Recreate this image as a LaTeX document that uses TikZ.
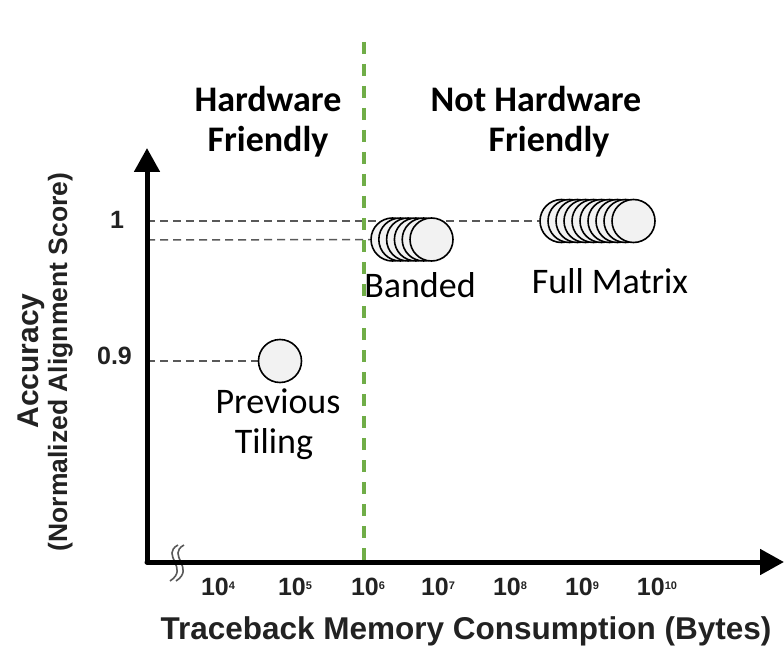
\documentclass[tikz,border=0pt]{standalone}
\usepackage{fontspec}
\setmainfont{Carlito}
\newfontfamily\arialfont{Liberation Sans}
\usetikzlibrary{arrows.meta}
\pgfdeclarelayer{paper}
\pgfdeclarelayer{guides}
\pgfsetlayers{paper,guides,main}
\definecolor{hwgreen}{HTML}{70AD47}
\definecolor{dgray}{HTML}{595959}
\definecolor{cfill}{HTML}{F2F2F2}
\definecolor{axtext}{HTML}{222222}
\newcommand{\tenpow}[1]{10\raisebox{6pt}{\fontsize{11}{11}\selectfont #1}}
\begin{document}
\begin{tikzpicture}[x=1pt,y=-1pt,
  circ/.style={circle,draw=black,line width=1.6pt,fill=cfill,minimum size=43pt,inner sep=0pt},
  lbl/.style={font=\fontsize{36}{40}\selectfont,anchor=base,inner sep=0pt},
  blbl/.style={font=\fontsize{36}{40}\selectfont\bfseries,anchor=base,inner sep=0pt},
  axisline/.style={line width=5pt,black,line cap=round,-{Triangle[length=24pt,width=25pt]}},
  guide/.style={dgray,line width=1.5pt,dash pattern=on 8pt off 5pt},
  divider/.style={hwgreen,line width=3.5pt,dash pattern=on 12pt off 10pt},
  squiggle/.style={dgray,line width=1.6pt},
  ticklbl/.style={font=\arialfont\bfseries\fontsize{25}{28}\selectfont,text=axtext,inner sep=0pt},
  axlbl/.style={font=\arialfont\bfseries,text=axtext,inner sep=0pt,anchor=base}
]
\useasboundingbox (0,0) rectangle (784,655);
\begin{pgfonlayer}{paper}
\fill[white] (0,0) rectangle (784,655);
\end{pgfonlayer}

% axes
\coordinate (o) at (147,562);
\coordinate (ytip) at (147,148);
\coordinate (xtip) at (784,562);

% green divider
\coordinate (gtop) at (364,42);
\coordinate (gbot) at (364,560);
\draw[divider] (gtop) -- (gbot);

% circles: full matrix
\foreach \i in {0,...,9} {
  \node[circ] (f\i) at (561.5+8*\i,221) {};
}
% circles: banded
\foreach \i in {0,...,5} {
  \node[circ] (b\i) at (392.5+7.8*\i,239.5) {};
}
% previous tiling
\node[circ] (p) at (280,361) {};

% guide lines
\coordinate (y1) at (147,221);
\coordinate (y2) at (147,240);
\coordinate (y3) at (147,361);
\begin{pgfonlayer}{guides}
\draw[guide] (y1) -- (f0.west);
\draw[guide] (y2) -- (b0.west);
\draw[guide] (y3) -- (p.west);
\end{pgfonlayer}

% axis break
\draw[squiggle] (178,545) .. controls (160,555) and (190,568) .. (170,581);
\draw[squiggle] (184,545) .. controls (166,555) and (196,568) .. (176,581);

\draw[axisline] (o) -- (ytip);
\draw[axisline] (o) -- (xtip);

% labels
\node[lbl] (lband) at (420,297) {Banded};
\node[lbl] (lfull) at (610,293) {Full Matrix};
\node[lbl] (lprev) at (278,413) {Previous};
\node[lbl] (ltil) at (274,453) {Tiling};
\node[blbl] (h1) at (268,112) {Hardware};
\node[blbl] (h2) at (268,152) {Friendly};
\node[blbl] (n1) at (536,112) {Not Hardware};
\node[blbl] (n2) at (549,152) {Friendly};

% tick labels
\node[ticklbl] (t1) at (117,220) {1};
\node[ticklbl] (t09) at (114.5,356) {0.9};
\foreach \e/\x in {4/218,5/295,6/368,7/438,8/510,9/582,10/657} {
  \node[ticklbl] (x\e) at (\x,587) {\tenpow{\e}};
}

% axis titles
\node[axlbl,font=\arialfont\bfseries\fontsize{31.5}{34}\selectfont] (xtitle) at (466,639) {Traceback Memory Consumption (Bytes)};
\node[axlbl,rotate=90,font=\arialfont\bfseries\fontsize{30}{34}\selectfont] (yt1) at (38,361) {Accuracy};
\node[axlbl,rotate=90,font=\arialfont\bfseries\fontsize{26.5}{30}\selectfont] (yt2) at (67,362) {(Normalized Alignment Score)};
\end{tikzpicture}
\end{document}
